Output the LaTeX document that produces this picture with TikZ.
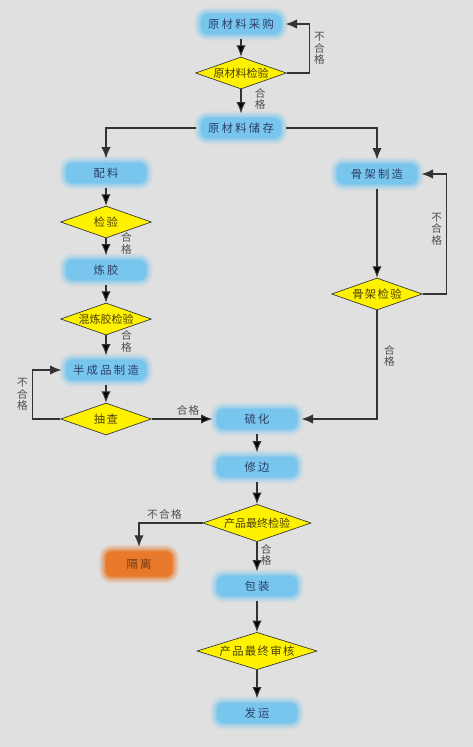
\documentclass[tikz,border=0pt]{standalone}
\usepackage{fontspec}
\usepackage{tikz}
\usetikzlibrary{arrows.meta}
\usetikzlibrary{shapes.geometric}
\newfontfamily\cjk{Noto Sans CJK SC}
\newfontfamily\cjkwide[LetterSpace=20]{Noto Sans CJK SC}
\newfontfamily\cjkmid[LetterSpace=12]{Noto Sans CJK SC}
\definecolor{bg}{HTML}{E0E0E0}
\definecolor{skyblue}{HTML}{78C6EE}
\definecolor{glowor}{HTML}{E8782A}
\definecolor{boxtext}{HTML}{2B3F66}
\definecolor{gelitext}{HTML}{6B3A18}
\definecolor{linegray}{HTML}{333333}
\definecolor{lbltext}{HTML}{4D4D4D}
\definecolor{chkfill}{HTML}{FFF200}
\definecolor{chktext}{HTML}{4D4000}
\tikzset{glowbox/.style={rounded corners=5pt, fill=#1,
  preaction={draw=#1, line width=10pt, draw opacity=0.15},
  preaction={draw=#1, line width=7pt, draw opacity=0.25},
  preaction={draw=#1, line width=4pt, draw opacity=0.35},
  preaction={draw=#1, line width=1.5pt, draw opacity=0.5}}}
\tikzstyle{proc} = [rectangle, glowbox=skyblue, minimum width=60pt, minimum height=15pt,
  inner sep=0pt, outer sep=3.5pt, text=boxtext, font=\fontsize{8.5pt}{10pt}\cjkwide]
\tikzstyle{reject} = [rectangle, glowbox=glowor, minimum width=50pt, minimum height=19pt,
  inner sep=0pt, outer sep=3.5pt, text=gelitext, font=\fontsize{8.5pt}{10pt}\cjkwide]
\tikzstyle{check} = [diamond, aspect=2.8, draw=linegray, line width=0.5pt, fill=chkfill,
  text=chktext, inner xsep=-8pt, inner ysep=0pt, minimum width=68pt, minimum height=24pt,
  font=\fontsize{8.5pt}{10pt}\cjkmid]
\tikzstyle{bigcheck} = [check, minimum width=81pt, minimum height=28pt]
\tikzstyle{tight} = [font=\fontsize{8.25pt}{10pt}\cjk]
\tikzstyle{link} = [draw=linegray, line width=0.8pt]
\tikzstyle{lbl} = [inner sep=1pt, text=lbltext, align=center, font=\fontsize{8pt}{8.5pt}\cjk]
\tikzstyle{lblh} = [inner sep=1pt, text=lbltext, font=\fontsize{8pt}{8.5pt}\cjkmid]

\begin{document}
\begin{tikzpicture}[x=0.75pt, y=-0.75pt, >={Latex[length=8.5pt,width=7pt]}]
  \fill[bg] (0,0) rectangle (473,747);
  \useasboundingbox (0,0) rectangle (473,747);
  % raw material
  \node[proc] (caigou) at (241,24) {原材料采购};
  \node[check, tight] (yljy) at (241,73) {原材料检验};
  \node[proc] (chucun) at (241,128) {原材料储存};
  % compound line
  \node[proc] (peiliao) at (106,173) {配料};
  \node[check] (jianyan) at (106,222) {检验};
  \node[proc] (lianjiao) at (106,270) {炼胶};
  \node[check, tight] (hljy) at (106,319) {混炼胶检验};
  \node[proc] (bcp) at (106,370) {半成品制造};
  \node[check] (choucha) at (106,419) {抽查};
  % frame line
  \node[proc] (guzhi) at (377,174) {骨架制造};
  \node[check] (gjjy) at (377,294) {骨架检验};
  % product
  \node[proc] (liuhua) at (257,419) {硫化};
  \node[proc] (xiubian) at (257,467) {修边};
  \node[bigcheck, tight] (cpjy) at (257,523) {产品最终检验};
  \node[reject] (geli) at (139,564) {隔离};
  \node[proc] (baozhuang) at (257,586) {包装};
  \node[bigcheck, minimum width=90pt] (cpsh) at (257,651) {产品最终审核};
  \node[proc] (fayun) at (257,713) {发运};

  \draw[link]
    (caigou) edge[->] (yljy)
    (yljy) edge[->] node[lbl, right=9pt, pos=0.4] (l1) {合\\格} (chucun)
    ;
  \draw[link, ->] (yljy.east) -- ++(23,0) |- node[lbl, right=2pt, pos=0.25] (l2) {不\\合\\格} (caigou.east);
  \draw[link, ->] (chucun.west) -| (peiliao.north);
  \draw[link, ->] (chucun.east) -| (guzhi.north);

  \draw[link]
    (peiliao) edge[->] (jianyan)
    (jianyan) edge[->] node[lbl, right=10pt, pos=0.3] (l3) {合\\格} (lianjiao)
    (lianjiao) edge[->] (hljy)
    (hljy) edge[->] node[lbl, right=10pt, pos=0.3] (l4) {合\\格} (bcp)
    (bcp) edge[->] (choucha)
    (choucha) edge[->] node[lblh, above=1pt, pos=0.6] (l5) {合格} (liuhua)
    ;
  \draw[link, ->] (choucha.west) -- ++(-28,0) |- node[lbl, left=2pt, pos=0.25] (l6) {不\\合\\格} (bcp.west);

  \draw[link] (guzhi) edge[->] (gjjy);
  \draw[link, ->] (gjjy.east) -- ++(24,0) |- node[lbl, left=2pt, pos=0.27] (l7) {不\\合\\格} (guzhi.east);
  \draw[link, ->] (gjjy.south) |- node[lbl, right=4pt, pos=0.21] (l8) {合\\格} (liuhua.east);

  \draw[link]
    (liuhua) edge[->] (xiubian)
    (xiubian) edge[->] (cpjy)
    (cpjy) edge[->] node[lbl, right=1.5pt, pos=0.45] (l9) {合\\格} (baozhuang)
    (baozhuang) edge[->] (cpsh)
    (cpsh) edge[->] (fayun)
    ;
  \draw[link, ->] (cpjy.west) -| node[lblh, above=1pt, pos=0.3] (l10) {不合格} (geli.north);
\end{tikzpicture}
\end{document}
